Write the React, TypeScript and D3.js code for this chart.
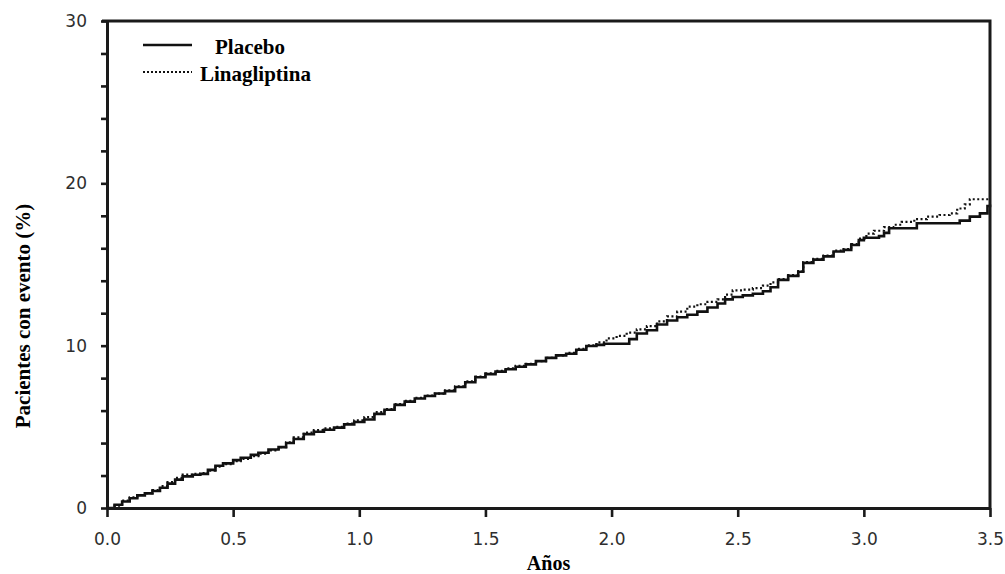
import React, { useEffect, useRef } from "react";
import * as d3 from "d3";

// values (years, % with event)
const placeboYears = [
  0.0, 0.03, 0.06, 0.09, 0.12, 0.15, 0.18, 0.21, 0.24, 0.27, 0.3, 0.34, 0.37, 0.4, 0.43, 0.46, 0.5, 0.53, 0.57,
  0.6, 0.64, 0.68, 0.71, 0.74, 0.78, 0.82, 0.86, 0.9, 0.94, 0.98, 1.02, 1.06, 1.1, 1.14, 1.18, 1.22, 1.26, 1.3,
  1.34, 1.38, 1.42, 1.46, 1.5, 1.54, 1.58, 1.62, 1.66, 1.7, 1.74, 1.78, 1.82, 1.86, 1.9, 1.94, 1.97, 2.07, 2.1,
  2.14, 2.18, 2.22, 2.26, 2.3, 2.34, 2.38, 2.42, 2.45, 2.48, 2.52, 2.56, 2.6, 2.63, 2.66, 2.7, 2.74, 2.76, 2.8,
  2.84, 2.88, 2.92, 2.95, 2.98, 3.0, 3.06, 3.08, 3.1, 3.21, 3.38, 3.42, 3.46, 3.49, 3.5,
];
const placeboPct = [
  0.0, 0.2, 0.4, 0.6, 0.78, 0.9, 1.05, 1.25, 1.5, 1.75, 1.95, 2.05, 2.1, 2.35, 2.6, 2.75, 2.95, 3.1, 3.27,
  3.4, 3.6, 3.75, 4.0, 4.25, 4.55, 4.7, 4.82, 4.95, 5.15, 5.3, 5.45, 5.8, 6.05, 6.35, 6.55, 6.75, 6.9, 7.05,
  7.2, 7.45, 7.75, 8.05, 8.25, 8.4, 8.55, 8.7, 8.85, 9.05, 9.25, 9.4, 9.5, 9.75, 9.98, 10.05, 10.12, 10.4, 10.75,
  10.95, 11.3, 11.55, 11.75, 11.9, 12.1, 12.35, 12.6, 12.85, 13.0, 13.1, 13.2, 13.35, 13.6, 14.05, 14.3, 14.55, 15.1, 15.3,
  15.5, 15.8, 15.9, 16.2, 16.5, 16.65, 16.75, 16.95, 17.23, 17.54, 17.7, 17.95, 18.15, 18.6, 18.7,
];

const linaYears = [
  0.0, 0.03, 0.06, 0.09, 0.12, 0.15, 0.18, 0.21, 0.24, 0.27, 0.3, 0.34, 0.37, 0.4, 0.43, 0.46, 0.5, 0.53, 0.57,
  0.6, 0.64, 0.68, 0.71, 0.74, 0.78, 0.82, 0.86, 0.9, 0.94, 0.98, 1.02, 1.06, 1.1, 1.14, 1.18, 1.22, 1.26, 1.3,
  1.34, 1.38, 1.42, 1.46, 1.5, 1.54, 1.58, 1.62, 1.66, 1.7, 1.74, 1.78, 1.82, 1.86, 1.9, 1.94, 1.98, 2.02, 2.06,
  2.1, 2.14, 2.18, 2.22, 2.26, 2.3, 2.34, 2.38, 2.42, 2.45, 2.48, 2.52, 2.56, 2.6, 2.63, 2.66, 2.7, 2.74, 2.76,
  2.8, 2.84, 2.88, 2.92, 2.95, 2.98, 3.01, 3.04, 3.08, 3.12, 3.15, 3.2, 3.25, 3.3, 3.34, 3.37, 3.4, 3.42, 3.5,
];
const linaPct = [
  0.0, 0.15, 0.45, 0.65, 0.8, 0.92, 1.1, 1.35, 1.6, 1.85, 2.05, 2.1, 2.15, 2.3, 2.55, 2.7, 2.88, 3.02, 3.2,
  3.35, 3.55, 3.75, 4.05, 4.35, 4.65, 4.8, 4.9, 5.0, 5.2, 5.4, 5.6, 5.9, 6.1, 6.4, 6.6, 6.78, 6.92, 7.05,
  7.25, 7.5, 7.8, 8.1, 8.3, 8.45, 8.6, 8.75, 8.88, 9.05, 9.25, 9.4, 9.55, 9.8, 10.02, 10.2, 10.45, 10.6, 10.8,
  11.0, 11.2, 11.5, 11.8, 12.1, 12.4, 12.55, 12.7, 12.85, 13.15, 13.4, 13.45, 13.55, 13.7, 13.9, 14.1, 14.35, 14.6, 15.15,
  15.35, 15.55, 15.85, 15.95, 16.25, 16.6, 16.9, 17.08, 17.3, 17.45, 17.62, 17.8, 17.95, 18.05, 18.15, 18.45, 18.7, 19.02, 19.02,
];

const xTicks = [0, 0.5, 1, 1.5, 2, 2.5, 3, 3.5];
const yTicks = [0, 2, 4, 6, 8, 10, 12, 14, 16, 18, 20, 22, 24, 26, 28, 30];
const yLabelled = [0, 10, 20, 30];

const seriesNames = ["Placebo", "Linagliptina"];

export default function App() {
  const ref = useRef<SVGSVGElement>(null);

  useEffect(() => {
    const width = 1005;
    const height = 574;
    const margin = { left: 107, right: 15, top: 21, bottom: 66 };
    const svg = d3.select(ref.current);
    svg.selectAll("*").remove();

    const x = d3.scaleLinear().domain([0, 3.5]).range([margin.left, width - margin.right]);
    const y = d3.scaleLinear().domain([0, 30]).range([height - margin.bottom, margin.top]);

    const ink = "#1a1a1a";
    const tickFont = "'DejaVu Sans', Verdana, sans-serif";
    const serif = "'Liberation Serif', 'Times New Roman', serif";

    // curves
    const line = d3
      .line<[number, number]>()
      .x((d) => x(d[0]))
      .y((d) => y(d[1]))
      .curve(d3.curveStepAfter);

    const placebo = placeboYears.map((t, i) => [t, placeboPct[i]] as [number, number]);
    const lina = linaYears.map((t, i) => [t, linaPct[i]] as [number, number]);

    svg
      .append("path")
      .attr("d", line(lina))
      .attr("fill", "none")
      .attr("stroke", "#111")
      .attr("stroke-width", 2.2)
      .attr("stroke-dasharray", "2,2.5");

    svg
      .append("path")
      .attr("d", line(placebo))
      .attr("fill", "none")
      .attr("stroke", "#111")
      .attr("stroke-width", 2.6);

    // frame top and right
    svg
      .append("path")
      .attr("d", `M${x(0) - 5},${y(30)}H${x(3.5)}V${y(0)}`)
      .attr("fill", "none")
      .attr("stroke", ink)
      .attr("stroke-width", 3);

    // x axis
    const gx = svg
      .append("g")
      .attr("transform", `translate(0,${y(0)})`)
      .call(
        d3
          .axisBottom(x)
          .tickValues(xTicks)
          .tickFormat((d) => d3.format(".1f")(d as number))
          .tickSize(9)
          .tickPadding(16)
          .tickSizeOuter(0)
      );

    // y axis
    const gy = svg
      .append("g")
      .attr("transform", `translate(${x(0)},0)`)
      .call(
        d3
          .axisLeft(y)
          .tickValues(yTicks)
          .tickFormat((d) => (yLabelled.includes(d as number) ? String(d) : ""))
          .tickSize(6)
          .tickPadding(14)
          .tickSizeOuter(0)
      );

    [gx, gy].forEach((g) => {
      g.select(".domain").attr("stroke", ink).attr("stroke-width", 3);
      g.selectAll(".tick line").attr("stroke", ink).attr("stroke-width", 2.6);
      g.selectAll(".tick text")
        .attr("fill", "#2e2e2e")
        .style("font-family", tickFont)
        .style("font-size", "17px");
    });

    // axis titles
    svg
      .append("text")
      .attr("x", (x(0) + x(3.5)) / 2)
      .attr("y", 570)
      .attr("text-anchor", "middle")
      .style("font-family", serif)
      .style("font-weight", "bold")
      .style("font-size", "20px")
      .text("Años");

    svg
      .append("text")
      .attr("transform", "translate(30,316) rotate(-90)")
      .attr("text-anchor", "middle")
      .style("font-family", serif)
      .style("font-weight", "bold")
      .style("font-size", "21px")
      .text("Pacientes con evento (%)");

    // legend
    const legend = svg.append("g");
    legend
      .append("line")
      .attr("x1", 143)
      .attr("x2", 192)
      .attr("y1", 45)
      .attr("y2", 45)
      .attr("stroke", "#111")
      .attr("stroke-width", 2.6);
    legend
      .append("line")
      .attr("x1", 143)
      .attr("x2", 192)
      .attr("y1", 72)
      .attr("y2", 72)
      .attr("stroke", "#111")
      .attr("stroke-width", 2.2)
      .attr("stroke-dasharray", "2,2");
    legend
      .append("text")
      .attr("x", 215)
      .attr("y", 54)
      .style("font-family", serif)
      .style("font-weight", "bold")
      .style("font-size", "21px")
      .text(seriesNames[0]);
    legend
      .append("text")
      .attr("x", 200)
      .attr("y", 81)
      .style("font-family", serif)
      .style("font-weight", "bold")
      .style("font-size", "21px")
      .text(seriesNames[1]);
  }, []);

  return (
    <svg
      ref={ref}
      width={1005}
      height={574}
      style={{ position: "absolute", left: 0, top: 0, display: "block", background: "#fff" }}
    />
  );
}
